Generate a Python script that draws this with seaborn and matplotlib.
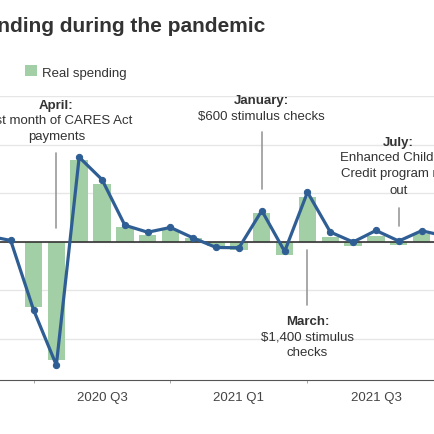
import pandas as pd
import matplotlib.pyplot as plt
import matplotlib.ticker as mticker
import seaborn as sns

# Monthly data, Jan 2020 .. Sep 2021 (month index 0..20)
months = pd.date_range("2020-01-01", "2021-09-01", freq="MS")
real_spending = [0.3, 0.0, -6.7, -12.2, 8.4, 5.9, 1.5, 0.65, 1.2, 0.38, -0.48, -0.9,
                 2.95, -1.34, 4.6, 0.44, -0.48, 0.55, -0.31, 0.79, 0.6]
line_values = [0.6, 0.13, -7.0, -12.7, 8.7, 6.4, 1.7, 0.98, 1.47, 0.38, -0.59, -0.62,
               3.2, -1.0, 5.1, 1.0, -0.03, 1.16, 0.07, 1.13, 0.6]
tick_labels = ["2020 Q3", "2021 Q1", "2021 Q3"]

df = pd.DataFrame({"m": range(len(months)), "spend": real_spending, "line": line_values})

sns.set_style("white")
plt.rcParams["font.family"] = ["Liberation Sans", "DejaVu Sans"]

bar_col = "#a2cfa6"
line_col = "#2f5e94"
txt_col = "#333333"

fig = plt.figure(figsize=(4.35, 4.35), dpi=100)
ax = fig.add_axes([0, 1 - 380.7 / 435, 1, (380.7 - 97) / 435])

sns.barplot(data=df, x="m", y="spend", native_scale=True, width=0.76, color=bar_col,
            saturation=1, linewidth=0, edgecolor="none", label="Real spending",
            ax=ax, zorder=2)
ax.axhline(0, color="#333333", lw=1.2, zorder=3)
sns.lineplot(data=df, x="m", y="line", color=line_col, lw=2.3, marker="o", markersize=4.5,
             markeredgecolor=line_col, legend=False, ax=ax, zorder=4)

ax.set_xlim(0.532, 19.586)
ax.set_ylim(-14.2, 15)
ax.set_yticks([-10, -5, 0, 5, 10, 15])
ax.yaxis.set_major_formatter(mticker.NullFormatter())
ax.tick_params(axis="y", length=0)
ax.grid(axis="y", color="#e6e6e6", lw=1, zorder=0)
ax.set_axisbelow(True)

ax.set_xticks([5, 11, 17])
ax.set_xticklabels(tick_labels, fontsize=9.5, color="#444444")
ax.set_xticks([2, 8, 14], minor=True)
ax.tick_params(axis="x", which="major", length=4, color="#555555", pad=4)
ax.tick_params(axis="x", which="minor", length=2.5, color="#999999", bottom=True)
ax.set_xlabel("")
ax.set_ylabel("")
for s in ["left", "right", "top"]:
    ax.spines[s].set_visible(False)
ax.spines["bottom"].set_color("#555555")

# annotations
def note(x, lines_y, head, body, y0, y1):
    ax.plot([x, x], [y0, y1], color="#999999", lw=1.2, zorder=1)
    ax.text(x, lines_y[0], head, ha="center", va="center", fontsize=9.5,
            weight="bold", color=txt_col)
    for yy, t in zip(lines_y[1:], body):
        ax.text(x, yy, t, ha="center", va="center", fontsize=9.5, color=txt_col)

note(3, [14.07, 12.53, 10.88], "April:", ["First month of CARES Act", "payments"], 9.13, 1.41)
note(12, [14.58, 12.94], "January:", ["$600 stimulus checks"], 11.29, 5.42)
note(14, [-8.11, -9.76, -11.4], "March:", ["$1,400 stimulus", "checks"], -0.85, -6.5)
note(18, [10.26, 8.72, 7.07, 5.32], "July:",
     ["Enhanced Child Tax", "Credit program rolls", "out"], 3.47, 1.62)
for t in ax.texts:
    t.set_clip_on(False)

fig.text(265 / 435, 1 - 32 / 435, "Consumer spending during the pandemic",
         ha="right", va="baseline", fontsize=15, weight="bold", color=txt_col)

ax.legend(loc="center left", bbox_to_anchor=(25 / 435, 1 - 73 / 435),
          bbox_transform=fig.transFigure, frameon=False, fontsize=9.5,
          handlelength=0.9, handleheight=0.9, handletextpad=0.4, borderpad=0,
          borderaxespad=0, labelcolor=txt_col)

fig.savefig("out.png", dpi=100)
